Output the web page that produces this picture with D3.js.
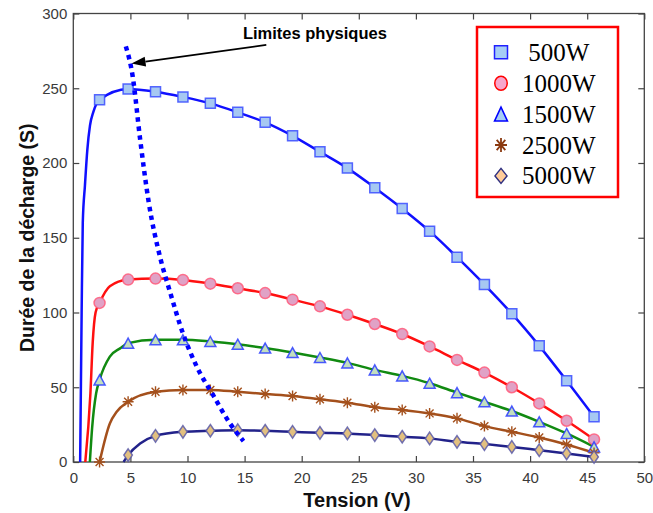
<!DOCTYPE html>
<html><head><meta charset="utf-8">
<script src="https://cdn.jsdelivr.net/npm/d3@7"></script>
<style>body{margin:0;background:#fff}svg{display:block}</style>
</head><body>
<svg id="c" width="653" height="513"></svg>
<script>
// ---------- data ----------
const voltage = [2.3,4.8,7.2,9.6,12.0,14.4,16.8,19.2,21.6,24.0,26.4,28.8,31.2,33.6,36.0,38.4,40.8,43.2,45.6];
const seriesNames = ["500W","1000W","1500W","2500W","5000W"];
const d500  = [242.3,249.5,247.7,244.2,239.9,233.9,227.2,218.2,207.5,196.6,183.5,169.5,154.4,137,118.7,99.2,77.7,54.4,30.3];
const d1000 = [106.4,122,122.7,121.8,119.3,116.2,113,108.6,104.1,98.5,92.3,85.6,77.3,68.3,59.8,50,39.2,27.6,15.1];
const d1500 = [54.9,79.5,81.7,81.7,80.6,78.8,76.2,73.2,69.9,66.3,61.6,57.6,52.7,46.4,40.3,34.1,26.9,19.1,10.1];
const d2500 = [0,40.3,47,48.2,48.2,47,45.5,44.2,41.9,39.7,36.6,34.8,32.5,29.2,24,20.2,16.4,11.7,6.1];
const d5000 = [null,4.6,17.5,20.2,20.9,21.3,20.9,20.2,19.5,19.1,18,16.9,15.8,13.5,12,10.1,7.9,5.7,3.4];
// steep start of each curve, [voltage, duration]
const lead500  = [[0.6,0],[0.73,100],[0.83,160],[1.02,185],[1.23,209],[1.46,225],[1.75,234]];
const lead1000 = [[1.05,0],[1.5,46],[1.7,80],[1.95,100],[3.2,117.5]];
const lead1500 = [[1.45,0],[1.65,23],[2.0,46],[3.2,70.5],[4.1,76]];
const lead2500 = [[3.2,25.8],[3.8,33.6]];
const lead5000 = [[4.4,0],[5.85,12.4]];
// "Limites physiques" dotted boundary
const limitV = [4.6,5.2,5.85,6.6,7.6,8.5,9.6,10.8,12.3,13.7,14.9];
const limitD = [278,258,216,174,137,113,86,64,44,26,14];
const annText = "Limites physiques";
const annTextPos = [14.85,283];
const arrowTail = [16.9,279];
const arrowTip = [5.1,266.5];
const xTicks = [0,5,10,15,20,25,30,35,40,45,50];
const yTicks = [0,50,100,150,200,250,300];
const xTitle = "Tension (V)";
const yTitle = "Durée de la décharge (S)";

// ---------- styles ----------
const styles = [
  {line:"#1010ff", sym:"square",   fill:"#a6c8f2", stroke:"#3a4cff", lfill:"#a6cdf5", lstroke:"#2020ff"},
  {line:"#ff1010", sym:"circle",   fill:"#e0a2c6", stroke:"#ff5a7a", lfill:"#f7a6cc", lstroke:"#ff0000"},
  {line:"#118a11", sym:"triangle", fill:"#c2dfbf", stroke:"#2a3cff", lfill:"#a6cdf5", lstroke:"#0000ff"},
  {line:"#a4501c", sym:"star",     fill:"none",    stroke:"#a4501c", lfill:"none",    lstroke:"#8b3a10"},
  {line:"#22228a", sym:"diamond",  fill:"#e2c080", stroke:"#5a5aa8", lfill:"#ffcc99", lstroke:"#303080"}
];
const allData = [d500,d1000,d1500,d2500,d5000];
const leads = [lead500,lead1000,lead1500,lead2500,lead5000];

const svg = d3.select("#c");
const x = d3.scaleLinear().domain([0,50]).range([73.3,644.3]);
const y = d3.scaleLinear().domain([0,300]).range([462,13.5]);
const font = "'Liberation Sans', Arial, Helvetica, sans-serif";

// axes
const gx = svg.append("g").attr("transform",`translate(0,${y(0)})`)
  .call(d3.axisBottom(x).tickValues(xTicks).tickSizeInner(-6).tickSizeOuter(0).tickPadding(10));
const gy = svg.append("g").attr("transform",`translate(${x(0)},0)`)
  .call(d3.axisLeft(y).tickValues(yTicks).tickSizeInner(-6).tickSizeOuter(0).tickPadding(6));
const gx2 = svg.append("g").attr("transform",`translate(0,${y(300)})`)
  .call(d3.axisTop(x).tickValues(xTicks).tickSizeInner(-6).tickSizeOuter(0).tickFormat(""));
const gy2 = svg.append("g").attr("transform",`translate(${x(50)},0)`)
  .call(d3.axisRight(y).tickValues(yTicks).tickSizeInner(-6).tickSizeOuter(0).tickFormat(""));
[gx,gy,gx2,gy2].forEach(g=>{
  g.select(".domain").remove();
  g.selectAll(".tick line").attr("stroke","#444").attr("stroke-width",1.2);
  g.selectAll(".tick text").attr("fill","#3a3a3a").style("font-family",font).style("font-size","15px");
});
svg.append("rect").attr("x",x(0)).attr("y",y(300)).attr("width",x(50)-x(0)).attr("height",y(0)-y(300))
  .attr("fill","none").attr("stroke","#444").attr("stroke-width",1.3);

// titles
svg.append("text").attr("x",357).attr("y",507).attr("text-anchor","middle")
  .style("font-family",font).style("font-size","20px").style("font-weight","bold").attr("fill","#111").text(xTitle);
svg.append("text").attr("transform",`translate(34,${(y(0)+y(300))/2}) rotate(-90)`).attr("text-anchor","middle")
  .style("font-family",font).style("font-size","19.5px").style("font-weight","bold").attr("fill","#111").text(yTitle);

// symbols
function symPath(kind, w, h){
  const a=w/2, b=h/2;
  if(kind==="square") return `M${-a},${-b}H${a}V${b}H${-a}Z`;
  if(kind==="circle") return `M${-a},0A${a},${b} 0 1,0 ${a},0A${a},${b} 0 1,0 ${-a},0Z`;
  if(kind==="triangle") return `M0,${-b}L${a},${b}L${-a},${b}Z`;
  if(kind==="diamond") return `M0,${-b}L${a},0L0,${b}L${-a},0Z`;
  if(kind==="star"){ const d=a*0.72, e=b*0.72;
    return `M0,${-b}V${b}M${-a},0H${a}M${-d},${-e}L${d},${e}M${-d},${e}L${d},${-e}`; }
}
const markerSize = {square:[10,10],circle:[11,11],triangle:[11,10],diamond:[8.5,12.5],star:[11,11]};
const legendSize = {square:[13,13],circle:[12.5,14],triangle:[13,14],diamond:[12,15],star:[12,14]};

// curves
const line = d3.line().x(d=>x(d[0])).y(d=>y(d[1])).curve(d3.curveMonotoneX);
allData.forEach((vals,i)=>{
  const pts = voltage.map((v,j)=>[v,vals[j]]).filter(p=>p[1]!==null);
  const full = leads[i].concat(pts).sort((a,b)=>a[0]-b[0]);
  svg.append("path").attr("d",line(full)).attr("fill","none")
    .attr("stroke",styles[i].line).attr("stroke-width",2.5).attr("stroke-linejoin","round");
});
allData.forEach((vals,i)=>{
  const st = styles[i];
  const pts = voltage.map((v,j)=>[v,vals[j]]).filter(p=>p[1]!==null);
  const [w,h] = markerSize[st.sym];
  svg.append("g").selectAll("path").data(pts).join("path")
    .attr("transform",d=>`translate(${x(d[0])},${y(d[1])})`)
    .attr("d",symPath(st.sym,w,h))
    .attr("fill",st.fill).attr("stroke",st.stroke)
    .attr("stroke-width",st.sym==="star"?1.4:1.5).attr("stroke-opacity",st.sym==="star"?1:0.85);
});

// physical limit dotted line
const limLine = d3.line().x(d=>x(d[0])).y(d=>y(d[1])).curve(d3.curveMonotoneX);
svg.append("path").attr("d",limLine(limitV.map((v,i)=>[v,limitD[i]])))
  .attr("fill","none").attr("stroke","#0000ff").attr("stroke-width",4.5).attr("stroke-dasharray","4.5 4.5");

// annotation
svg.append("text").attr("x",x(annTextPos[0])).attr("y",y(annTextPos[1]))
  .style("font-family",font).style("font-size","16.5px").style("font-weight","bold").attr("fill","#000").text(annText);
const tx=x(arrowTip[0]), ty=y(arrowTip[1]), sx=x(arrowTail[0]), sy=y(arrowTail[1]);
const ang = Math.atan2(ty-sy, tx-sx);
const hl=14, hw=5;
const bx = tx - hl*Math.cos(ang), by = ty - hl*Math.sin(ang);
svg.append("line").attr("x1",sx).attr("y1",sy).attr("x2",bx).attr("y2",by).attr("stroke","#000").attr("stroke-width",1.6);
svg.append("path").attr("d",`M${tx},${ty}L${bx - hw*Math.sin(ang)},${by + hw*Math.cos(ang)}L${bx + hw*Math.sin(ang)},${by - hw*Math.cos(ang)}Z`).attr("fill","#000");

// legend
const lg = svg.append("g");
lg.append("rect").attr("x",477).attr("y",27).attr("width",141).attr("height",170)
  .attr("fill","#fff").attr("stroke","#ff0000").attr("stroke-width",2.5);
seriesNames.forEach((name,i)=>{
  const st = styles[i];
  const cy = 52.3 + i*30.9;
  const [w,h] = legendSize[st.sym];
  lg.append("path").attr("transform",`translate(501,${cy})`).attr("d",symPath(st.sym,w,h))
    .attr("fill",st.lfill).attr("stroke",st.lstroke).attr("stroke-width",st.sym==="star"?1.8:1.5);
  lg.append("text").attr("x",522).attr("y",cy+8.5).attr("xml:space","preserve").style("white-space","pre")
    .style("font-family","'Liberation Serif','Times New Roman',serif").style("font-size","25px").attr("fill","#000")
    .text(name.length===4 ? " "+name : name);
});
</script>
</body></html>
